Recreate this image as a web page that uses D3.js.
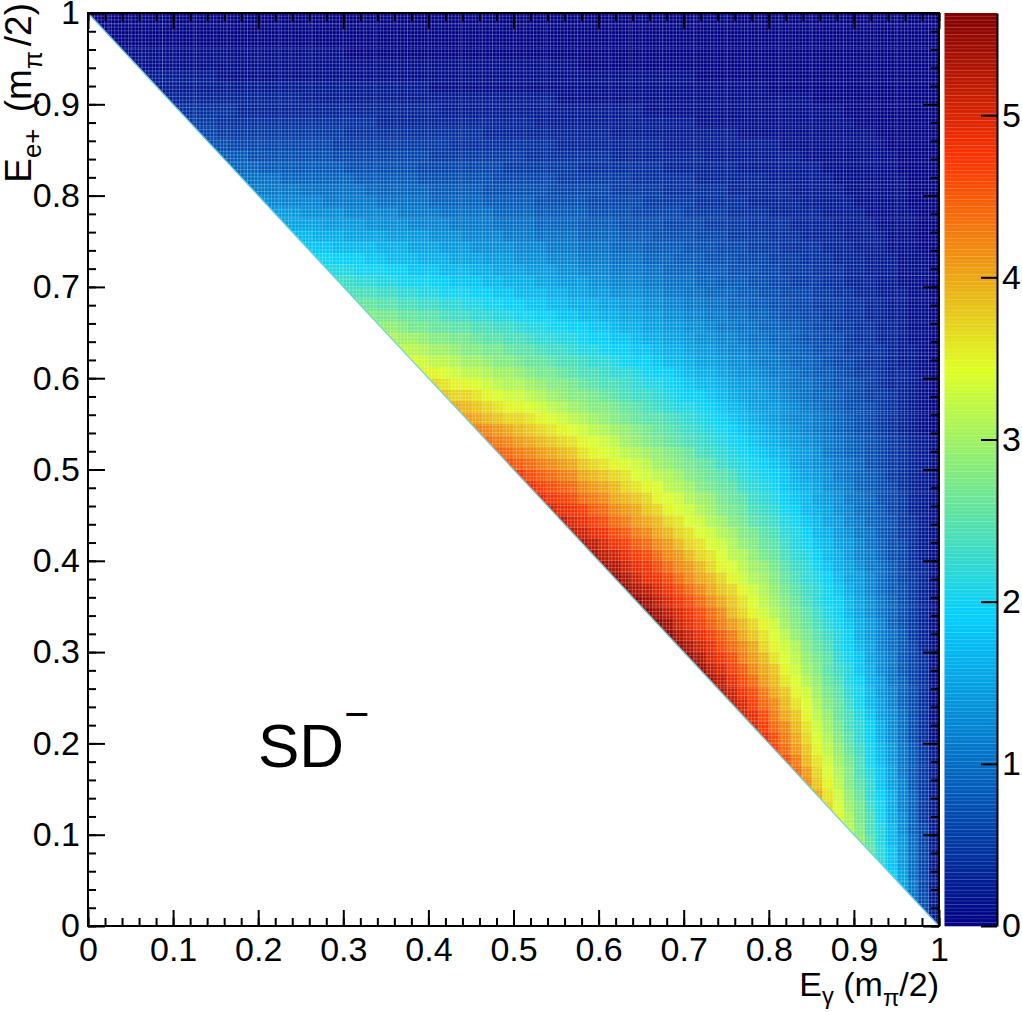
<!DOCTYPE html>
<html>
<head>
<meta charset="utf-8">
<script src="https://cdn.jsdelivr.net/npm/d3@7"></script>
<style>
  html, body { margin: 0; padding: 0; background: #fff; }
  svg text { font-family: "Liberation Sans", Arial, Helvetica, sans-serif; }
</style>
</head>
<body>
<svg id="chart" width="1022" height="1012"></svg>
<script>

// ---------------- data ----------------
var nBins = 80;   // bins per axis over [0, 1]

// zRows[j] = E_e+ bin j (counted from the bottom).
// Values run from E_gamma = 1 leftwards, back to the kinematic edge E_gamma + E_e+ = 1.
var zRows = [
  [0.2],
  [0.2,0.7],
  [0.2,0.7,1.1],
  [0.2,0.6,1.1,1.5],
  [0.2,0.6,1.0,1.5,1.9],
  [0.2,0.6,1.0,1.4,1.8,2.2],
  [0.2,0.6,1.0,1.4,1.8,2.2,2.6],
  [0.2,0.6,1.0,1.4,1.7,2.1,2.5,2.9],
  [0.2,0.6,0.9,1.3,1.7,2.1,2.4,2.8,3.2],
  [0.2,0.5,0.9,1.3,1.6,2.0,2.4,2.7,3.1,3.5],
  [0.2,0.5,0.9,1.2,1.6,2.0,2.3,2.7,3.0,3.4,3.7],
  [0.2,0.5,0.9,1.2,1.6,1.9,2.2,2.6,2.9,3.3,3.6,4.0],
  [0.2,0.5,0.8,1.2,1.5,1.8,2.2,2.5,2.8,3.2,3.5,3.8,4.2],
  [0.2,0.5,0.8,1.1,1.5,1.8,2.1,2.4,2.8,3.1,3.4,3.7,4.1,4.4],
  [0.2,0.5,0.8,1.1,1.4,1.7,2.0,2.4,2.7,3.0,3.3,3.6,3.9,4.3,4.6],
  [0.2,0.5,0.8,1.1,1.4,1.7,2.0,2.3,2.6,2.9,3.2,3.5,3.8,4.1,4.4,4.7],
  [0.1,0.4,0.7,1.0,1.3,1.6,1.9,2.2,2.5,2.8,3.1,3.4,3.7,4.0,4.3,4.6,4.9],
  [0.1,0.4,0.7,1.0,1.3,1.6,1.9,2.2,2.4,2.7,3.0,3.3,3.6,3.9,4.2,4.4,4.7,5.0],
  [0.1,0.4,0.7,1.0,1.3,1.5,1.8,2.1,2.4,2.6,2.9,3.2,3.5,3.8,4.0,4.3,4.6,4.9,5.1],
  [0.1,0.4,0.7,0.9,1.2,1.5,1.7,2.0,2.3,2.6,2.8,3.1,3.4,3.6,3.9,4.2,4.4,4.7,5.0,5.2],
  [0.1,0.4,0.7,0.9,1.2,1.4,1.7,2.0,2.2,2.5,2.7,3.0,3.3,3.5,3.8,4.0,4.3,4.6,4.8,5.1,5.3],
  [0.1,0.4,0.6,0.9,1.1,1.4,1.6,1.9,2.1,2.4,2.6,2.9,3.1,3.4,3.6,3.9,4.1,4.4,4.6,4.9,5.2,5.4],
  [0.1,0.4,0.6,0.8,1.1,1.3,1.6,1.8,2.1,2.3,2.5,2.8,3.0,3.3,3.5,3.8,4.0,4.2,4.5,4.7,5.0,5.2,5.5],
  [0.1,0.4,0.6,0.8,1.1,1.3,1.5,1.8,2.0,2.2,2.5,2.7,2.9,3.2,3.4,3.6,3.9,4.1,4.3,4.6,4.8,5.0,5.3,5.5],
  [0.1,0.3,0.6,0.8,1.0,1.2,1.5,1.7,1.9,2.1,2.4,2.6,2.8,3.1,3.3,3.5,3.7,4.0,4.2,4.4,4.6,4.9,5.1,5.3,5.5],
  [0.1,0.3,0.5,0.8,1.0,1.2,1.4,1.6,1.9,2.1,2.3,2.5,2.7,2.9,3.2,3.4,3.6,3.8,4.0,4.3,4.5,4.7,4.9,5.1,5.3,5.6],
  [0.1,0.3,0.5,0.7,0.9,1.2,1.4,1.6,1.8,2.0,2.2,2.4,2.6,2.8,3.0,3.3,3.5,3.7,3.9,4.1,4.3,4.5,4.7,4.9,5.1,5.4,5.6],
  [0.1,0.3,0.5,0.7,0.9,1.1,1.3,1.5,1.7,1.9,2.1,2.3,2.5,2.7,2.9,3.1,3.3,3.5,3.7,3.9,4.2,4.4,4.6,4.8,5.0,5.2,5.4,5.6],
  [0.1,0.3,0.5,0.7,0.9,1.1,1.3,1.5,1.7,1.9,2.0,2.2,2.4,2.6,2.8,3.0,3.2,3.4,3.6,3.8,4.0,4.2,4.4,4.6,4.8,5.0,5.2,5.4,5.6],
  [0.1,0.3,0.5,0.7,0.8,1.0,1.2,1.4,1.6,1.8,2.0,2.2,2.3,2.5,2.7,2.9,3.1,3.3,3.5,3.7,3.8,4.0,4.2,4.4,4.6,4.8,5.0,5.2,5.3,5.5],
  [0.1,0.3,0.5,0.6,0.8,1.0,1.2,1.4,1.5,1.7,1.9,2.1,2.2,2.4,2.6,2.8,3.0,3.1,3.3,3.5,3.7,3.9,4.0,4.2,4.4,4.6,4.8,4.9,5.1,5.3,5.5],
  [0.1,0.3,0.4,0.6,0.8,1.0,1.1,1.3,1.5,1.6,1.8,2.0,2.2,2.3,2.5,2.7,2.9,3.0,3.2,3.4,3.5,3.7,3.9,4.1,4.2,4.4,4.6,4.8,4.9,5.1,5.3,5.4],
  [0.1,0.2,0.4,0.6,0.7,0.9,1.1,1.2,1.4,1.6,1.7,1.9,2.1,2.2,2.4,2.6,2.7,2.9,3.1,3.2,3.4,3.6,3.7,3.9,4.1,4.2,4.4,4.6,4.7,4.9,5.1,5.2,5.4],
  [0.1,0.2,0.4,0.6,0.7,0.9,1.0,1.2,1.4,1.5,1.7,1.8,2.0,2.1,2.3,2.5,2.6,2.8,2.9,3.1,3.3,3.4,3.6,3.7,3.9,4.1,4.2,4.4,4.5,4.7,4.8,5.0,5.2,5.3],
  [0.1,0.2,0.4,0.5,0.7,0.8,1.0,1.1,1.3,1.4,1.6,1.7,1.9,2.1,2.2,2.4,2.5,2.7,2.8,3.0,3.1,3.3,3.4,3.6,3.7,3.9,4.0,4.2,4.3,4.5,4.6,4.8,4.9,5.1,5.2],
  [0.1,0.2,0.4,0.5,0.7,0.8,0.9,1.1,1.2,1.4,1.5,1.7,1.8,2.0,2.1,2.3,2.4,2.5,2.7,2.8,3.0,3.1,3.3,3.4,3.6,3.7,3.9,4.0,4.1,4.3,4.4,4.6,4.7,4.9,5.0,5.2],
  [0.1,0.2,0.3,0.5,0.6,0.8,0.9,1.0,1.2,1.3,1.5,1.6,1.7,1.9,2.0,2.2,2.3,2.4,2.6,2.7,2.8,3.0,3.1,3.3,3.4,3.5,3.7,3.8,4.0,4.1,4.2,4.4,4.5,4.7,4.8,4.9,5.1],
  [0.1,0.2,0.3,0.5,0.6,0.7,0.9,1.0,1.1,1.3,1.4,1.5,1.7,1.8,1.9,2.1,2.2,2.3,2.5,2.6,2.7,2.9,3.0,3.1,3.3,3.4,3.5,3.7,3.8,3.9,4.0,4.2,4.3,4.4,4.6,4.7,4.8,5.0],
  [0.1,0.2,0.3,0.4,0.6,0.7,0.8,0.9,1.1,1.2,1.3,1.5,1.6,1.7,1.8,2.0,2.1,2.2,2.3,2.5,2.6,2.7,2.8,3.0,3.1,3.2,3.4,3.5,3.6,3.7,3.9,4.0,4.1,4.2,4.4,4.5,4.6,4.7,4.9],
  [0.1,0.2,0.3,0.4,0.5,0.7,0.8,0.9,1.0,1.1,1.3,1.4,1.5,1.6,1.8,1.9,2.0,2.1,2.2,2.4,2.5,2.6,2.7,2.8,3.0,3.1,3.2,3.3,3.4,3.6,3.7,3.8,3.9,4.0,4.2,4.3,4.4,4.5,4.6,4.8],
  [0.1,0.2,0.3,0.4,0.5,0.6,0.7,0.9,1.0,1.1,1.2,1.3,1.4,1.5,1.7,1.8,1.9,2.0,2.1,2.2,2.3,2.5,2.6,2.7,2.8,2.9,3.0,3.2,3.3,3.4,3.5,3.6,3.7,3.8,4.0,4.1,4.2,4.3,4.4,4.5,4.6],
  [0.1,0.2,0.3,0.4,0.5,0.6,0.7,0.8,0.9,1.0,1.1,1.3,1.4,1.5,1.6,1.7,1.8,1.9,2.0,2.1,2.2,2.3,2.4,2.6,2.7,2.8,2.9,3.0,3.1,3.2,3.3,3.4,3.5,3.6,3.8,3.9,4.0,4.1,4.2,4.3,4.4,4.5],
  [0.1,0.2,0.3,0.4,0.5,0.6,0.7,0.8,0.9,1.0,1.1,1.2,1.3,1.4,1.5,1.6,1.7,1.8,1.9,2.0,2.1,2.2,2.3,2.4,2.5,2.6,2.7,2.8,2.9,3.0,3.2,3.3,3.4,3.5,3.6,3.7,3.8,3.9,4.0,4.1,4.2,4.3,4.4],
  [0.0,0.1,0.2,0.3,0.4,0.5,0.6,0.7,0.8,0.9,1.0,1.1,1.2,1.3,1.4,1.5,1.6,1.7,1.8,1.9,2.0,2.1,2.2,2.3,2.4,2.5,2.6,2.7,2.8,2.9,3.0,3.1,3.2,3.3,3.4,3.5,3.6,3.7,3.8,3.9,4.0,4.1,4.2,4.3],
  [0.0,0.1,0.2,0.3,0.4,0.5,0.6,0.7,0.8,0.9,1.0,1.1,1.2,1.2,1.3,1.4,1.5,1.6,1.7,1.8,1.9,2.0,2.1,2.2,2.3,2.4,2.5,2.5,2.6,2.7,2.8,2.9,3.0,3.1,3.2,3.3,3.4,3.5,3.6,3.7,3.7,3.8,3.9,4.0,4.1],
  [0.0,0.1,0.2,0.3,0.4,0.5,0.6,0.7,0.7,0.8,0.9,1.0,1.1,1.2,1.3,1.4,1.4,1.5,1.6,1.7,1.8,1.9,2.0,2.1,2.1,2.2,2.3,2.4,2.5,2.6,2.7,2.8,2.8,2.9,3.0,3.1,3.2,3.3,3.4,3.5,3.5,3.6,3.7,3.8,3.9,4.0],
  [0.0,0.1,0.2,0.3,0.4,0.5,0.5,0.6,0.7,0.8,0.9,0.9,1.0,1.1,1.2,1.3,1.4,1.4,1.5,1.6,1.7,1.8,1.9,1.9,2.0,2.1,2.2,2.3,2.3,2.4,2.5,2.6,2.7,2.8,2.8,2.9,3.0,3.1,3.2,3.3,3.3,3.4,3.5,3.6,3.7,3.7,3.8],
  [0.0,0.1,0.2,0.3,0.3,0.4,0.5,0.6,0.7,0.7,0.8,0.9,1.0,1.0,1.1,1.2,1.3,1.4,1.4,1.5,1.6,1.7,1.7,1.8,1.9,2.0,2.1,2.1,2.2,2.3,2.4,2.4,2.5,2.6,2.7,2.8,2.8,2.9,3.0,3.1,3.1,3.2,3.3,3.4,3.5,3.5,3.6,3.7],
  [0.0,0.1,0.2,0.3,0.3,0.4,0.5,0.5,0.6,0.7,0.8,0.8,0.9,1.0,1.1,1.1,1.2,1.3,1.3,1.4,1.5,1.6,1.6,1.7,1.8,1.9,1.9,2.0,2.1,2.2,2.2,2.3,2.4,2.4,2.5,2.6,2.7,2.7,2.8,2.9,3.0,3.0,3.1,3.2,3.2,3.3,3.4,3.5,3.5],
  [0.0,0.1,0.2,0.2,0.3,0.4,0.4,0.5,0.6,0.6,0.7,0.8,0.9,0.9,1.0,1.1,1.1,1.2,1.3,1.3,1.4,1.5,1.5,1.6,1.7,1.7,1.8,1.9,1.9,2.0,2.1,2.2,2.2,2.3,2.4,2.4,2.5,2.6,2.6,2.7,2.8,2.8,2.9,3.0,3.0,3.1,3.2,3.2,3.3,3.4],
  [0.0,0.1,0.2,0.2,0.3,0.4,0.4,0.5,0.5,0.6,0.7,0.7,0.8,0.9,0.9,1.0,1.1,1.1,1.2,1.2,1.3,1.4,1.4,1.5,1.6,1.6,1.7,1.8,1.8,1.9,1.9,2.0,2.1,2.1,2.2,2.3,2.3,2.4,2.5,2.5,2.6,2.7,2.7,2.8,2.8,2.9,3.0,3.0,3.1,3.2,3.2],
  [0.0,0.1,0.1,0.2,0.3,0.3,0.4,0.4,0.5,0.6,0.6,0.7,0.7,0.8,0.9,0.9,1.0,1.0,1.1,1.2,1.2,1.3,1.3,1.4,1.5,1.5,1.6,1.6,1.7,1.8,1.8,1.9,1.9,2.0,2.1,2.1,2.2,2.2,2.3,2.4,2.4,2.5,2.5,2.6,2.7,2.7,2.8,2.8,2.9,3.0,3.0,3.1],
  [0.0,0.1,0.1,0.2,0.3,0.3,0.4,0.4,0.5,0.5,0.6,0.6,0.7,0.8,0.8,0.9,0.9,1.0,1.0,1.1,1.1,1.2,1.3,1.3,1.4,1.4,1.5,1.5,1.6,1.6,1.7,1.8,1.8,1.9,1.9,2.0,2.0,2.1,2.1,2.2,2.3,2.3,2.4,2.4,2.5,2.5,2.6,2.6,2.7,2.7,2.8,2.9,2.9],
  [0.0,0.1,0.1,0.2,0.2,0.3,0.3,0.4,0.4,0.5,0.5,0.6,0.6,0.7,0.7,0.8,0.9,0.9,1.0,1.0,1.1,1.1,1.2,1.2,1.3,1.3,1.4,1.4,1.5,1.5,1.6,1.6,1.7,1.7,1.8,1.8,1.9,1.9,2.0,2.0,2.1,2.1,2.2,2.2,2.3,2.3,2.4,2.5,2.5,2.6,2.6,2.7,2.7,2.8],
  [0.0,0.1,0.1,0.2,0.2,0.3,0.3,0.4,0.4,0.5,0.5,0.5,0.6,0.6,0.7,0.7,0.8,0.8,0.9,0.9,1.0,1.0,1.1,1.1,1.2,1.2,1.3,1.3,1.4,1.4,1.5,1.5,1.6,1.6,1.6,1.7,1.7,1.8,1.8,1.9,1.9,2.0,2.0,2.1,2.1,2.2,2.2,2.3,2.3,2.4,2.4,2.5,2.5,2.6,2.6],
  [0.0,0.1,0.1,0.2,0.2,0.2,0.3,0.3,0.4,0.4,0.5,0.5,0.6,0.6,0.6,0.7,0.7,0.8,0.8,0.9,0.9,0.9,1.0,1.0,1.1,1.1,1.2,1.2,1.3,1.3,1.3,1.4,1.4,1.5,1.5,1.6,1.6,1.7,1.7,1.7,1.8,1.8,1.9,1.9,2.0,2.0,2.0,2.1,2.1,2.2,2.2,2.3,2.3,2.4,2.4,2.4],
  [0.0,0.1,0.1,0.1,0.2,0.2,0.3,0.3,0.3,0.4,0.4,0.5,0.5,0.5,0.6,0.6,0.7,0.7,0.8,0.8,0.8,0.9,0.9,1.0,1.0,1.0,1.1,1.1,1.2,1.2,1.2,1.3,1.3,1.4,1.4,1.4,1.5,1.5,1.6,1.6,1.6,1.7,1.7,1.8,1.8,1.8,1.9,1.9,2.0,2.0,2.0,2.1,2.1,2.2,2.2,2.3,2.3],
  [0.0,0.1,0.1,0.1,0.2,0.2,0.2,0.3,0.3,0.4,0.4,0.4,0.5,0.5,0.5,0.6,0.6,0.7,0.7,0.7,0.8,0.8,0.8,0.9,0.9,0.9,1.0,1.0,1.1,1.1,1.1,1.2,1.2,1.2,1.3,1.3,1.4,1.4,1.4,1.5,1.5,1.5,1.6,1.6,1.7,1.7,1.7,1.8,1.8,1.8,1.9,1.9,2.0,2.0,2.0,2.1,2.1,2.1],
  [0.0,0.1,0.1,0.1,0.2,0.2,0.2,0.3,0.3,0.3,0.4,0.4,0.4,0.5,0.5,0.5,0.6,0.6,0.6,0.7,0.7,0.7,0.8,0.8,0.8,0.9,0.9,0.9,1.0,1.0,1.0,1.1,1.1,1.1,1.2,1.2,1.2,1.3,1.3,1.3,1.4,1.4,1.4,1.5,1.5,1.5,1.6,1.6,1.6,1.7,1.7,1.7,1.8,1.8,1.9,1.9,1.9,2.0,2.0],
  [0.0,0.0,0.1,0.1,0.1,0.2,0.2,0.2,0.3,0.3,0.3,0.4,0.4,0.4,0.4,0.5,0.5,0.5,0.6,0.6,0.6,0.7,0.7,0.7,0.8,0.8,0.8,0.8,0.9,0.9,0.9,1.0,1.0,1.0,1.1,1.1,1.1,1.2,1.2,1.2,1.3,1.3,1.3,1.3,1.4,1.4,1.4,1.5,1.5,1.5,1.6,1.6,1.6,1.7,1.7,1.7,1.7,1.8,1.8,1.8],
  [0.0,0.0,0.1,0.1,0.1,0.2,0.2,0.2,0.2,0.3,0.3,0.3,0.3,0.4,0.4,0.4,0.5,0.5,0.5,0.5,0.6,0.6,0.6,0.7,0.7,0.7,0.7,0.8,0.8,0.8,0.9,0.9,0.9,0.9,1.0,1.0,1.0,1.0,1.1,1.1,1.1,1.2,1.2,1.2,1.2,1.3,1.3,1.3,1.4,1.4,1.4,1.4,1.5,1.5,1.5,1.5,1.6,1.6,1.6,1.7,1.7],
  [0.0,0.0,0.1,0.1,0.1,0.1,0.2,0.2,0.2,0.2,0.3,0.3,0.3,0.3,0.4,0.4,0.4,0.4,0.5,0.5,0.5,0.5,0.6,0.6,0.6,0.6,0.7,0.7,0.7,0.7,0.8,0.8,0.8,0.8,0.9,0.9,0.9,0.9,1.0,1.0,1.0,1.0,1.1,1.1,1.1,1.1,1.2,1.2,1.2,1.2,1.3,1.3,1.3,1.3,1.4,1.4,1.4,1.4,1.5,1.5,1.5,1.5],
  [0.0,0.0,0.1,0.1,0.1,0.1,0.1,0.2,0.2,0.2,0.2,0.3,0.3,0.3,0.3,0.3,0.4,0.4,0.4,0.4,0.5,0.5,0.5,0.5,0.6,0.6,0.6,0.6,0.6,0.7,0.7,0.7,0.7,0.8,0.8,0.8,0.8,0.8,0.9,0.9,0.9,0.9,1.0,1.0,1.0,1.0,1.0,1.1,1.1,1.1,1.1,1.2,1.2,1.2,1.2,1.2,1.3,1.3,1.3,1.3,1.4,1.4,1.4],
  [0,0,0,0.1,0.1,0.1,0.1,0.1,0.2,0.2,0.2,0.2,0.2,0.3,0.3,0.3,0.3,0.3,0.4,0.4,0.4,0.4,0.4,0.5,0.5,0.5,0.5,0.5,0.6,0.6,0.6,0.6,0.6,0.7,0.7,0.7,0.7,0.7,0.8,0.8,0.8,0.8,0.8,0.9,0.9,0.9,0.9,0.9,1.0,1.0,1.0,1.0,1.0,1.1,1.1,1.1,1.1,1.1,1.2,1.2,1.2,1.2,1.2,1.3],
  [0,0,0,0.1,0.1,0.1,0.1,0.1,0.1,0.2,0.2,0.2,0.2,0.2,0.3,0.3,0.3,0.3,0.3,0.3,0.4,0.4,0.4,0.4,0.4,0.4,0.5,0.5,0.5,0.5,0.5,0.6,0.6,0.6,0.6,0.6,0.6,0.7,0.7,0.7,0.7,0.7,0.7,0.8,0.8,0.8,0.8,0.8,0.9,0.9,0.9,0.9,0.9,0.9,1.0,1.0,1.0,1.0,1.0,1.0,1.1,1.1,1.1,1.1,1.1],
  [0,0,0,0.1,0.1,0.1,0.1,0.1,0.1,0.1,0.2,0.2,0.2,0.2,0.2,0.2,0.3,0.3,0.3,0.3,0.3,0.3,0.3,0.4,0.4,0.4,0.4,0.4,0.4,0.5,0.5,0.5,0.5,0.5,0.5,0.5,0.6,0.6,0.6,0.6,0.6,0.6,0.7,0.7,0.7,0.7,0.7,0.7,0.7,0.8,0.8,0.8,0.8,0.8,0.8,0.9,0.9,0.9,0.9,0.9,0.9,0.9,1.0,1.0,1.0,1.0],
  [0,0,0,0,0.1,0.1,0.1,0.1,0.1,0.1,0.1,0.2,0.2,0.2,0.2,0.2,0.2,0.2,0.2,0.3,0.3,0.3,0.3,0.3,0.3,0.3,0.4,0.4,0.4,0.4,0.4,0.4,0.4,0.4,0.5,0.5,0.5,0.5,0.5,0.5,0.5,0.6,0.6,0.6,0.6,0.6,0.6,0.6,0.6,0.7,0.7,0.7,0.7,0.7,0.7,0.7,0.8,0.8,0.8,0.8,0.8,0.8,0.8,0.8,0.9,0.9,0.9],
  [0,0,0,0,0.1,0.1,0.1,0.1,0.1,0.1,0.1,0.1,0.1,0.2,0.2,0.2,0.2,0.2,0.2,0.2,0.2,0.2,0.3,0.3,0.3,0.3,0.3,0.3,0.3,0.3,0.3,0.4,0.4,0.4,0.4,0.4,0.4,0.4,0.4,0.5,0.5,0.5,0.5,0.5,0.5,0.5,0.5,0.5,0.6,0.6,0.6,0.6,0.6,0.6,0.6,0.6,0.6,0.7,0.7,0.7,0.7,0.7,0.7,0.7,0.7,0.8,0.8,0.8],
  [0,0,0,0,0,0.1,0.1,0.1,0.1,0.1,0.1,0.1,0.1,0.1,0.1,0.2,0.2,0.2,0.2,0.2,0.2,0.2,0.2,0.2,0.2,0.2,0.3,0.3,0.3,0.3,0.3,0.3,0.3,0.3,0.3,0.3,0.4,0.4,0.4,0.4,0.4,0.4,0.4,0.4,0.4,0.4,0.5,0.5,0.5,0.5,0.5,0.5,0.5,0.5,0.5,0.5,0.5,0.6,0.6,0.6,0.6,0.6,0.6,0.6,0.6,0.6,0.6,0.7,0.7],
  [0,0,0,0,0,0,0.1,0.1,0.1,0.1,0.1,0.1,0.1,0.1,0.1,0.1,0.1,0.1,0.1,0.2,0.2,0.2,0.2,0.2,0.2,0.2,0.2,0.2,0.2,0.2,0.2,0.3,0.3,0.3,0.3,0.3,0.3,0.3,0.3,0.3,0.3,0.3,0.3,0.4,0.4,0.4,0.4,0.4,0.4,0.4,0.4,0.4,0.4,0.4,0.4,0.4,0.5,0.5,0.5,0.5,0.5,0.5,0.5,0.5,0.5,0.5,0.5,0.5,0.6,0.6],
  [0,0,0,0,0,0,0,0,0.1,0.1,0.1,0.1,0.1,0.1,0.1,0.1,0.1,0.1,0.1,0.1,0.1,0.1,0.1,0.2,0.2,0.2,0.2,0.2,0.2,0.2,0.2,0.2,0.2,0.2,0.2,0.2,0.2,0.2,0.3,0.3,0.3,0.3,0.3,0.3,0.3,0.3,0.3,0.3,0.3,0.3,0.3,0.3,0.3,0.4,0.4,0.4,0.4,0.4,0.4,0.4,0.4,0.4,0.4,0.4,0.4,0.4,0.4,0.4,0.5,0.5,0.5],
  [0,0,0,0,0,0,0,0,0,0.1,0.1,0.1,0.1,0.1,0.1,0.1,0.1,0.1,0.1,0.1,0.1,0.1,0.1,0.1,0.1,0.1,0.1,0.1,0.2,0.2,0.2,0.2,0.2,0.2,0.2,0.2,0.2,0.2,0.2,0.2,0.2,0.2,0.2,0.2,0.2,0.2,0.2,0.3,0.3,0.3,0.3,0.3,0.3,0.3,0.3,0.3,0.3,0.3,0.3,0.3,0.3,0.3,0.3,0.3,0.3,0.3,0.4,0.4,0.4,0.4,0.4,0.4],
  [0,0,0,0,0,0,0,0,0,0,0,0,0.1,0.1,0.1,0.1,0.1,0.1,0.1,0.1,0.1,0.1,0.1,0.1,0.1,0.1,0.1,0.1,0.1,0.1,0.1,0.1,0.1,0.1,0.1,0.1,0.2,0.2,0.2,0.2,0.2,0.2,0.2,0.2,0.2,0.2,0.2,0.2,0.2,0.2,0.2,0.2,0.2,0.2,0.2,0.2,0.2,0.2,0.2,0.2,0.3,0.3,0.3,0.3,0.3,0.3,0.3,0.3,0.3,0.3,0.3,0.3,0.3],
  [0,0,0,0,0,0,0,0,0,0,0,0,0,0,0,0,0.1,0.1,0.1,0.1,0.1,0.1,0.1,0.1,0.1,0.1,0.1,0.1,0.1,0.1,0.1,0.1,0.1,0.1,0.1,0.1,0.1,0.1,0.1,0.1,0.1,0.1,0.1,0.1,0.1,0.1,0.1,0.1,0.2,0.2,0.2,0.2,0.2,0.2,0.2,0.2,0.2,0.2,0.2,0.2,0.2,0.2,0.2,0.2,0.2,0.2,0.2,0.2,0.2,0.2,0.2,0.2,0.2,0.2],
  [0,0,0,0,0,0,0,0,0,0,
   0,0,0,0,0,0,0,0,0,0,
   0,0,0,
   0.1,0.1,0.1,0.1,0.1,0.1,0.1,0.1,0.1,0.1,
   0.1,0.1,0.1,0.1,0.1,0.1,0.1,0.1,0.1,0.1,
   0.1,0.1,0.1,0.1,0.1,0.1,0.1,0.1,0.1,0.1,
   0.1,0.1,0.1,0.1,0.1,0.1,0.1,0.1,0.1,0.1,
   0.1,0.1,0.1,0.1,0.1,
   0.2,0.2,0.2,0.2,0.2,0.2,0.2],
  [0,0,0,0,0,0,0,0,0,0,0,0,0,0,0,0,0,0,0,0,0,0,0,0,0,0,0,0,0,0,0,0,0,0,0.1,0.1,0.1,0.1,0.1,0.1,0.1,0.1,0.1,0.1,0.1,0.1,0.1,0.1,0.1,0.1,0.1,0.1,0.1,0.1,0.1,0.1,0.1,0.1,0.1,0.1,0.1,0.1,0.1,0.1,0.1,0.1,0.1,0.1,0.1,0.1,0.1,0.1,0.1,0.1,0.1,0.1],
  [0,0,0,0,0,0,0,0,0,0,0,0,0,0,0,0,0,0,0,0,0,0,0,0,0,0,0,0,0,0,0,0,0,0,0,0,0,0,0,0,0,0,0,0,0,0,0,0,0,0,0,0,0,0,0,0,0.1,0.1,0.1,0.1,0.1,0.1,0.1,0.1,0.1,0.1,0.1,0.1,0.1,0.1,0.1,0.1,0.1,0.1,0.1,0.1,0.1],
  [0,0,0,0,0,0,0,0,0,0,0,0,0,0,0,0,0,0,0,0,0,0,0,0,0,0,0,0,0,0,0,0,0,0,0,0,0,0,0,0,0,0,0,0,0,0,0,0,0,0,0,0,0,0,0,0,0,0,0,0,0,0,0,0,0,0,0,0,0,0,0,0,0,0,0,0,0,0],
  [0,0,0,0,0,0,0,0,0,0,0,0,0,0,0,0,0,0,0,0,0,0,0,0,0,0,0,0,0,0,0,0,0,0,0,0,0,0,0,0,0,0,0,0,0,0,0,0,0,0,0,0,0,0,0,0,0,0,0,0,0,0,0,0,0,0,0,0,0,0,0,0,0,0,0,0,0,0,0],
  [0,0,0,0,0,0,0,0,0,0,0,0,0,0,0,0,0,0,0,0,0,0,0,0,0,0,0,0,0,0,0,0,0,0,0,0,0,0,0,0,0,0,0,0,0,0,0,0,0,0,0,0,0,0,0,0,0,0,0,0,0,0,0,0,0,0,0,0,0,0,0,0,0,0,0,0,0,0,0,0]
];

var xTickValues = [0, 0.1, 0.2, 0.3, 0.4, 0.5, 0.6, 0.7, 0.8, 0.9, 1];
var xTickLabels = ["0", "0.1", "0.2", "0.3", "0.4", "0.5", "0.6", "0.7", "0.8", "0.9", "1"];
var yTickValues = [0, 0.1, 0.2, 0.3, 0.4, 0.5, 0.6, 0.7, 0.8, 0.9, 1];
var yTickLabels = ["0", "0.1", "0.2", "0.3", "0.4", "0.5", "0.6", "0.7", "0.8", "0.9", "1"];
var zTickValues = [0, 1, 2, 3, 4, 5];
var zTickLabels = ["0", "1", "2", "3", "4", "5"];
var zMax = 5.63;

// ROOT style rainbow palette
var paletteStops  = [0, 0.34, 0.61, 0.84, 1];
var paletteColors = ["rgb(0,0,130)", "rgb(0,207,255)", "rgb(222,255,31)", "rgb(255,51,0)", "rgb(130,0,0)"];
var nContours = 255;

// ---------------- layout ----------------
var svg = d3.select("#chart");
var font = 34;

var x = d3.scaleLinear().domain([0, 1]).range([88, 939]);
var y = d3.scaleLinear().domain([0, 1]).range([926, 13]);
var z = d3.scaleLinear().domain([0, zMax]).range([926, 13]);

var palette = d3.scaleLinear()
    .domain(paletteStops.map(function (s) { return s * zMax; }))
    .range(paletteColors)
    .clamp(true);

function levelColor(v) {
    var l = Math.min(nContours - 1, Math.floor(v / zMax * nContours));
    return palette((l + 0.5) * zMax / nContours);
}

var cells = [];
zRows.forEach(function (row, j) {
    row.forEach(function (v, k) {
        cells.push({i: nBins - 1 - k, j: j, v: v});
    });
});

var defs = svg.append("defs");

// kinematic region E_gamma + E_e+ >= 1
var region = [[0, 1], [1, 1], [1, 0]];
defs.append("clipPath").attr("id", "kin")
    .append("polygon")
    .attr("points", region.map(function (p) { return x(p[0]) + "," + y(p[1]); }).join(" "));

// fine bin texture like the original histogram
var pw = (x(1) - x(0)) / 250, ph = (y(0) - y(1)) / 250;
var pat = defs.append("pattern").attr("id", "binGrid")
    .attr("patternUnits", "userSpaceOnUse")
    .attr("x", x(0)).attr("y", y(1))
    .attr("width", pw).attr("height", ph);
pat.append("path")
    .attr("d", "M" + (pw - 0.35) + ",0V" + ph + "M0," + (ph - 0.35) + "H" + pw)
    .attr("stroke", "#fff").attr("stroke-opacity", 0.35).attr("stroke-width", 0.7);

var heat = svg.append("g").attr("clip-path", "url(#kin)");

heat.selectAll("rect.cell")
    .data(cells)
    .enter()
    .append("rect")
    .attr("class", "cell")
    .attr("x", function (d) { return x(d.i / nBins); })
    .attr("y", function (d) { return y((d.j + 1) / nBins); })
    .attr("width", function (d) { return x((d.i + 1) / nBins) - x(d.i / nBins) + 0.3; })
    .attr("height", function (d) { return y(d.j / nBins) - y((d.j + 1) / nBins) + 0.3; })
    .attr("fill", function (d) { return levelColor(d.v); });

heat.append("rect")
    .attr("x", x(0)).attr("y", y(1))
    .attr("width", x(1) - x(0)).attr("height", y(0) - y(1))
    .attr("fill", "url(#binGrid)");

// edge of the allowed region
svg.append("line")
    .attr("x1", x(0)).attr("y1", y(1))
    .attr("x2", x(1)).attr("y2", y(0))
    .attr("stroke", "#6fd0d8").attr("stroke-width", 1.2);

// ---------------- axes ----------------
function styleAxis(g) {
    g.select(".domain").remove();
    g.selectAll("line").attr("stroke", "#000").attr("stroke-width", 2);
    g.attr("font-size", font).attr("font-family", null);
    g.selectAll("text").attr("fill", "#000");
}

var minor = d3.range(0, 51).map(function (k) { return k / 50; });

svg.append("g").attr("transform", "translate(0," + y(0) + ")")
    .call(d3.axisBottom(x).tickValues(minor).tickSize(-8).tickFormat(""))
    .call(styleAxis);
svg.append("g").attr("transform", "translate(0," + y(0) + ")")
    .call(d3.axisBottom(x).tickValues(xTickValues).tickSize(-16).tickPadding(11)
        .tickFormat(function (d, i) { return xTickLabels[i]; }))
    .call(styleAxis);

svg.append("g").attr("transform", "translate(0," + y(1) + ")")
    .call(d3.axisTop(x).tickValues(minor).tickSize(-8).tickFormat(""))
    .call(styleAxis);
svg.append("g").attr("transform", "translate(0," + y(1) + ")")
    .call(d3.axisTop(x).tickValues(xTickValues).tickSize(-16).tickFormat(""))
    .call(styleAxis);

svg.append("g").attr("transform", "translate(" + x(0) + ",0)")
    .call(d3.axisLeft(y).tickValues(minor).tickSize(-8).tickFormat(""))
    .call(styleAxis);
svg.append("g").attr("transform", "translate(" + x(0) + ",0)")
    .call(d3.axisLeft(y).tickValues(yTickValues).tickSize(-17).tickPadding(8)
        .tickFormat(function (d, i) { return yTickLabels[i]; }))
    .call(styleAxis);

svg.append("g").attr("transform", "translate(" + x(1) + ",0)")
    .call(d3.axisRight(y).tickValues(minor).tickSize(-8).tickFormat(""))
    .call(styleAxis);
svg.append("g").attr("transform", "translate(" + x(1) + ",0)")
    .call(d3.axisRight(y).tickValues(yTickValues).tickSize(-16).tickFormat(""))
    .call(styleAxis);

svg.append("rect")
    .attr("x", x(0)).attr("y", y(1))
    .attr("width", x(1) - x(0)).attr("height", y(0) - y(1))
    .attr("fill", "none").attr("stroke", "#000").attr("stroke-width", 2);

// ---------------- palette axis ----------------
var barLeft = 944.5, barRight = 997;
var levels = d3.range(nContours);

svg.append("g").selectAll("rect")
    .data(levels)
    .enter()
    .append("rect")
    .attr("x", barLeft)
    .attr("y", function (l) { return z((l + 1) * zMax / nContours); })
    .attr("width", barRight - barLeft)
    .attr("height", function (l) { return z(l * zMax / nContours) - z((l + 1) * zMax / nContours) + 0.3; })
    .attr("fill", function (l) { return palette((l + 0.5) * zMax / nContours); });

svg.append("g").selectAll("line")
    .data(levels.slice(1))
    .enter()
    .append("line")
    .attr("x1", barLeft).attr("x2", barRight)
    .attr("y1", function (l) { return z(l * zMax / nContours); })
    .attr("y2", function (l) { return z(l * zMax / nContours); })
    .attr("stroke", "#fff").attr("stroke-opacity", 0.22).attr("stroke-width", 0.6);

var zAxis = svg.append("g").attr("transform", "translate(" + barRight + ",0)")
    .call(d3.axisRight(z).tickValues(zTickValues).tickSize(-16).tickSizeOuter(0).tickPadding(5)
        .tickFormat(function (d, i) { return zTickLabels[i]; }));
zAxis.select(".domain").attr("stroke", "#000").attr("stroke-width", 2);
zAxis.selectAll(".tick line").attr("stroke", "#000").attr("stroke-width", 2);
zAxis.attr("font-size", font).attr("font-family", null);
zAxis.selectAll("text").attr("fill", "#000");

// ---------------- titles ----------------
var xTitle = svg.append("text")
    .attr("x", x(1)).attr("y", 996)
    .attr("text-anchor", "end")
    .attr("font-size", font);
xTitle.append("tspan").text("E");
xTitle.append("tspan").attr("font-size", font * 0.7).attr("dy", 8).text("\u03b3");
xTitle.append("tspan").attr("dy", -8).text(" (m");
xTitle.append("tspan").attr("font-size", font * 0.7).attr("dy", 10).text("\u03c0");
xTitle.append("tspan").attr("dy", -10).text("/2)");

var yFont = 37;
var yTitle = svg.append("text")
    .attr("transform", "translate(31,3) rotate(-90)")
    .attr("text-anchor", "end")
    .attr("font-size", yFont);
yTitle.append("tspan").text("E");
yTitle.append("tspan").attr("font-size", yFont * 0.7).attr("dy", 10).text("e+");
yTitle.append("tspan").attr("dy", -10).attr("dx", 6).text(" (m");
yTitle.append("tspan").attr("font-size", yFont * 0.7).attr("dy", 11).text("\u03c0");
yTitle.append("tspan").attr("dy", -11).attr("dx", 5).text("/2)");

var label = svg.append("text")
    .attr("x", 258).attr("y", 767)
    .attr("font-size", 62);
label.append("tspan").text("SD");
label.append("tspan").attr("font-size", 43).attr("dy", -38).text("\u2212");

</script>
</body>
</html>
